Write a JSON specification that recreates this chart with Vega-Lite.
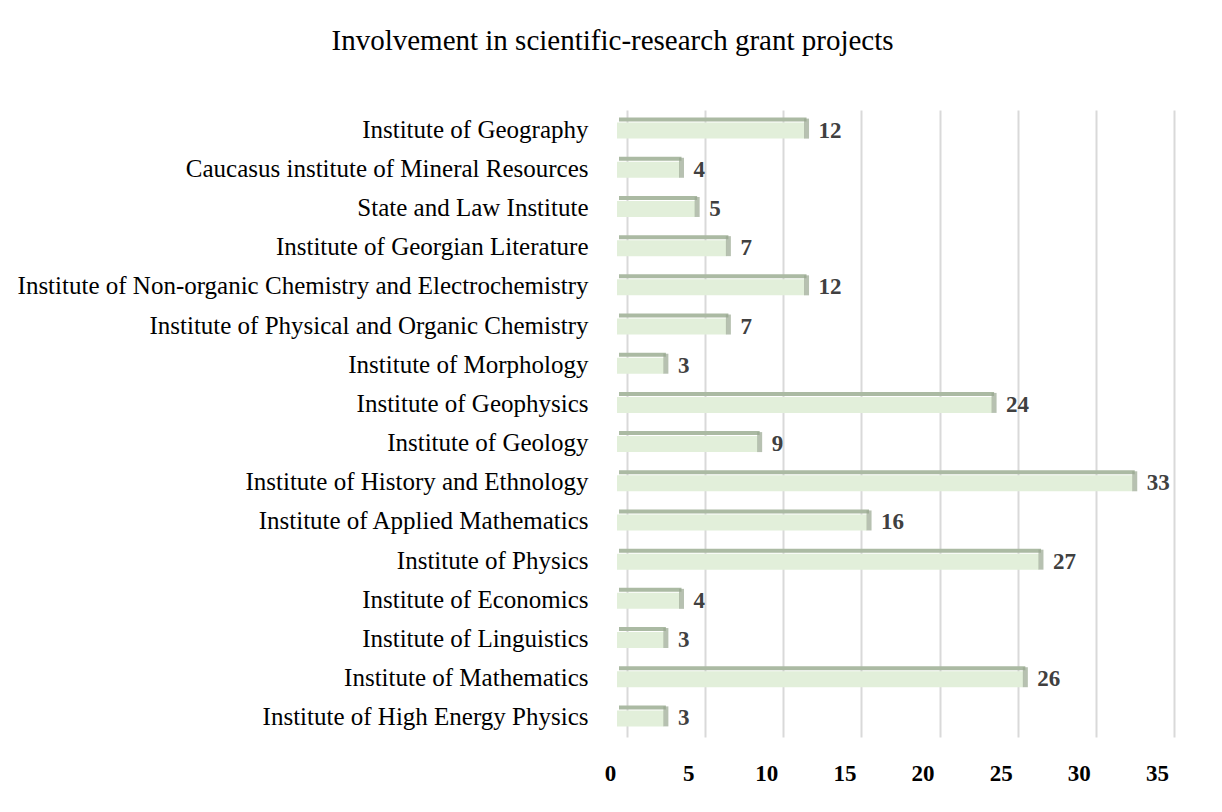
{
  "$schema": "https://vega.github.io/schema/vega-lite/v6.json",
  "width": 547,
  "height": 627,
  "autosize": {"type": "none"},
  "padding": {"left": 617, "top": 110, "right": 58, "bottom": 75},
  "background": "white",
  "title": {
    "text": "Involvement in scientific-research grant projects",
    "font": "Liberation Serif",
    "fontSize": 29,
    "fontWeight": "normal",
    "color": "#000000",
    "anchor": "middle",
    "frame": "group",
    "dx": -278,
    "offset": 54
  },
  "config": {
    "view": {"stroke": null},
    "font": "Liberation Serif"
  },
  "data": {
    "values": [
      {"institute": "Institute of Geography", "projects": 12},
      {"institute": "Caucasus institute of Mineral Resources", "projects": 4},
      {"institute": "State and Law Institute", "projects": 5},
      {"institute": "Institute of Georgian Literature", "projects": 7},
      {"institute": "Institute of Non-organic Chemistry and Electrochemistry", "projects": 12},
      {"institute": "Institute of Physical and Organic Chemistry", "projects": 7},
      {"institute": "Institute of Morphology", "projects": 3},
      {"institute": "Institute of Geophysics", "projects": 24},
      {"institute": "Institute of Geology", "projects": 9},
      {"institute": "Institute of History and Ethnology", "projects": 33},
      {"institute": "Institute of Applied Mathematics", "projects": 16},
      {"institute": "Institute of Physics", "projects": 27},
      {"institute": "Institute of Economics", "projects": 4},
      {"institute": "Institute of Linguistics", "projects": 3},
      {"institute": "Institute of Mathematics", "projects": 26},
      {"institute": "Institute of High Energy Physics", "projects": 3}
    ]
  },
  "encoding": {
    "y": {
      "field": "institute",
      "type": "nominal",
      "sort": null,
      "scale": {"paddingInner": 0, "paddingOuter": 0},
      "axis": {
        "title": null,
        "domain": false,
        "ticks": false,
        "labelPadding": 29,
        "labelFont": "Liberation Serif",
        "labelFontSize": 25,
        "labelColor": "#000000",
        "labelLimit": 620
      }
    },
    "x": {
      "field": "projects",
      "type": "quantitative",
      "scale": {"domain": [0, 35], "nice": false},
      "axis": {
        "title": null,
        "values": [0, 5, 10, 15, 20, 25, 30, 35],
        "domain": false,
        "ticks": false,
        "grid": true,
        "gridColor": "#d9d9d9",
        "gridWidth": 2,
        "tickOffset": 10,
        "labelOffset": -17,
        "labelFlush": false,
        "labelPadding": 25,
        "labelFont": "Liberation Serif",
        "labelFontSize": 23,
        "labelFontWeight": "bold",
        "labelColor": "#000000"
      }
    }
  },
  "layer": [
    {
      "mark": {"type": "bar", "height": 4, "yOffset": -10, "xOffset": 2, "color": "#abbaa3"}
    },
    {
      "mark": {"type": "bar", "height": 16, "yOffset": 1, "color": "#e2efda"}
    },
    {
      "mark": {"type": "tick", "orient": "vertical", "thickness": 5, "size": 20, "yOffset": -1, "xOffset": 2, "color": "#98a690"}
    },
    {
      "mark": {"type": "text", "align": "left", "dx": 14, "dy": 1, "fontSize": 23, "fontWeight": "bold", "color": "#404040", "font": "Liberation Serif"},
      "encoding": {"text": {"field": "projects", "type": "quantitative"}}
    }
  ]
}
